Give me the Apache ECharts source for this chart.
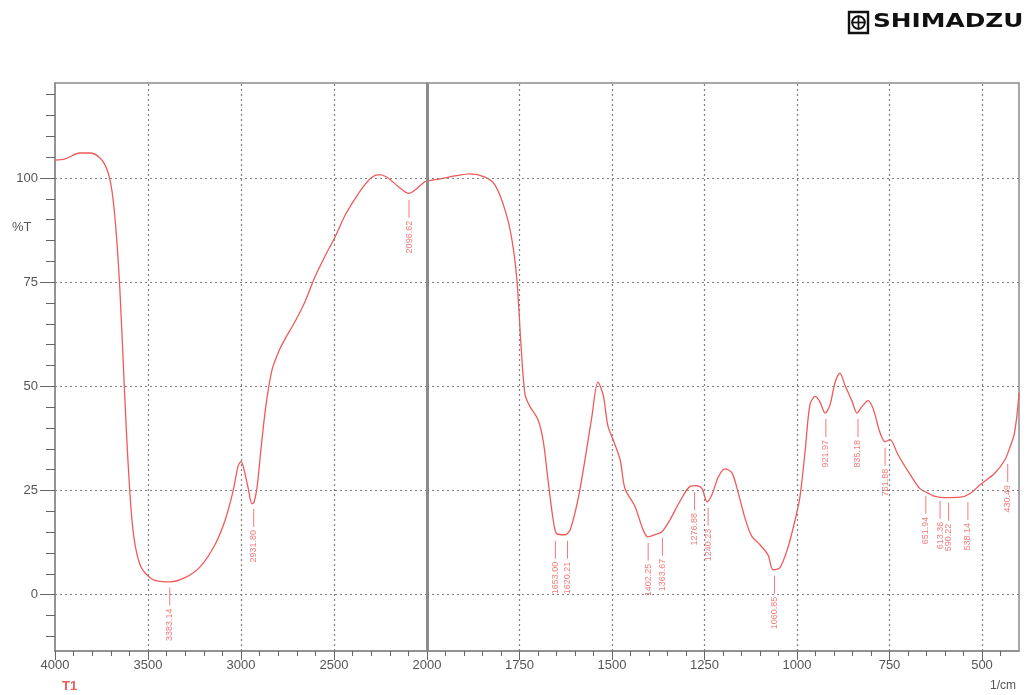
<!DOCTYPE html>
<html>
<head>
<meta charset="utf-8">
<script src="https://cdn.jsdelivr.net/npm/echarts@6/dist/echarts.min.js"></script>
<style>
  html, body { margin: 0; padding: 0; background: #fff; }
  #chart { width: 1029px; height: 695px; }
</style>
</head>
<body>
<div id="chart"></div>
<script>
// spectrum 4000-2000 1/cm (left panel, compressed scale)
var leftWavenumbers = [4000, 3946, 3866, 3812, 3758, 3720, 3694, 3672, 3651, 3629, 3608, 3581, 3543, 3489, 3435, 3382, 3301, 3220, 3140, 3086, 3043, 3016, 3000, 2984, 2962, 2941, 2930, 2914, 2893, 2866, 2833, 2796, 2763, 2710, 2656, 2602, 2548, 2495, 2441, 2387, 2344, 2301, 2258, 2215, 2150, 2097, 2054, 2016, 2000];
var leftTransmittance = [104.3, 104.6, 106, 106, 104.8, 102, 97, 87.5, 73, 51.6, 32.4, 15.6, 7.2, 4.1, 3.2, 3.1, 4.1, 6.7, 12, 17.8, 24.8, 30.8, 32, 30.1, 25.7, 21.8, 22.2, 25.7, 34.8, 45.4, 54, 58.5, 61.4, 65.5, 70.3, 76.3, 81.3, 85.8, 91, 95, 97.8, 100, 100.8, 100.2, 97.8, 96.3, 97.5, 99, 99.3];

// spectrum 2000-400 1/cm (right panel)
var rightWavenumbers = [2000, 1965, 1924, 1884, 1843, 1816, 1789, 1770, 1757, 1746, 1735, 1722, 1700, 1686, 1673, 1659, 1649, 1627, 1613, 1592, 1573, 1554, 1538, 1524, 1511, 1497, 1478, 1465, 1438, 1416, 1403, 1384, 1365, 1343, 1316, 1289, 1273, 1257, 1243, 1230, 1213, 1195, 1176, 1159, 1140, 1122, 1100, 1078, 1065, 1046, 1024, 1005, 992, 978, 965, 951, 938, 924, 911, 897, 884, 870, 851, 838, 824, 808, 794, 776, 762, 749, 727, 694, 667, 646, 627, 600, 559, 532, 505, 465, 438, 424, 413, 405, 400];
var rightTransmittance = [99.3, 99.8, 100.5, 101, 100.2, 98.3, 92.3, 85, 75.5, 60, 48, 45.2, 42, 37, 27.6, 18, 14.6, 14.4, 15.6, 22.8, 32.4, 43, 51, 48, 40.5, 37.2, 32.4, 25.5, 21.2, 15.6, 13.9, 14.4, 15.1, 18, 22.5, 26, 26.2, 25.5, 22.3, 24, 28.2, 30.2, 29.3, 24.5, 18.2, 14, 12, 9.5, 6, 6.5, 11.5, 18, 23.5, 34.5, 45.6, 47.6, 46.3, 43.6, 45.5, 51, 53.2, 50.2, 46.4, 43.6, 45.2, 46.6, 44.6, 39, 36.7, 37.2, 33.6, 28.8, 25.4, 24.4, 23.6, 23.3, 23.4, 24.3, 26.4, 29.2, 32.4, 35.5, 38.5, 43.5, 48.4];

// peak picks
var leftPeakWavenumbers = [3383.14, 2931.80, 2096.62];
var leftPeakValues = [3.2, 22, 96.2];
var rightPeakWavenumbers = [1653.00, 1620.21, 1402.25, 1363.67, 1276.88, 1240.23, 1060.85, 921.97, 835.18, 761.88, 651.94, 613.36, 590.22, 538.14, 430.49];
var rightPeakValues = [14.4, 14.4, 13.9, 15.1, 26.1, 22.3, 6, 43.6, 43.6, 36.7, 25.2, 24, 23.5, 23.7, 32.8];

// axis ticks
var yTickLabels = [0, 25, 50, 75, 100];
var yMinorTicks = [-10, -5, 5, 10, 15, 20, 30, 35, 40, 45, 55, 60, 65, 70, 80, 85, 90, 95, 105, 110, 115, 120];
var leftXTickLabels = [4000, 3500, 3000, 2500, 2000];
var leftXMinorTicks = [3900, 3800, 3700, 3600, 3400, 3300, 3200, 3100, 2900, 2800, 2700, 2600, 2400, 2300, 2200, 2100];
var rightXTickLabels = [1750, 1500, 1250, 1000, 750, 500];
var rightXMinorTicks = [1950, 1900, 1850, 1800, 1700, 1650, 1600, 1550, 1450, 1400, 1350, 1300, 1200, 1150, 1100, 1050, 950, 900, 850, 800, 700, 650, 600, 550, 450];

var red = '#f05a5a';
var gray = '#8c8c8c';
var textGray = '#555';

function zip(xs, ys) {
  var out = [];
  for (var i = 0; i < xs.length; i++) out.push([xs[i], ys[i]]);
  return out;
}
function peakData(xs, ys) {
  var out = [];
  for (var i = 0; i < xs.length; i++) {
    out.push({ name: xs[i].toFixed(2), value: [xs[i], ys[i]] });
  }
  return out;
}
function gridLines(xs) {
  var d = [];
  yTickLabels.forEach(function (v) { d.push({ yAxis: v }); });
  xs.forEach(function (v) { d.push({ xAxis: v }); });
  return d;
}
function plain(v) { return String(v); }

var dotted = { type: [2, 3], color: '#808080', width: 1.2 };
var axisFont = { fontFamily: 'Liberation Sans', fontSize: 13, color: textGray, formatter: plain };

function xAxisPair(grid, min, max, majors, minors) {
  return [
    {
      gridIndex: grid, type: 'value', min: min, max: max, inverse: true, position: 'bottom',
      axisLine: { show: true, onZero: false, lineStyle: { color: gray, width: 1.5 } },
      axisTick: { show: true, customValues: majors, length: 9, lineStyle: { color: '#666' } },
      axisLabel: Object.assign({ customValues: majors, margin: 8 }, axisFont),
      splitLine: { show: false }
    },
    {
      gridIndex: grid, type: 'value', min: min, max: max, inverse: true, position: 'bottom',
      axisLine: { show: false, onZero: false },
      axisTick: { show: true, customValues: minors, length: 5, lineStyle: { color: '#666' } },
      axisLabel: { show: false },
      splitLine: { show: false }
    }
  ];
}

var peakSeries = function (xi, yi, data) {
  return {
    type: 'scatter',
    xAxisIndex: xi,
    yAxisIndex: yi,
    data: data,
    symbol: 'rect',
    symbolSize: [1, 18],
    symbolOffset: [0, 15],
    itemStyle: { color: red },
    silent: true,
    label: {
      show: true,
      formatter: '{b}',
      position: 'bottom',
      distance: 3,
      rotate: 90,
      align: 'right',
      verticalAlign: 'middle',
      color: red,
      fontFamily: 'Liberation Sans',
      fontSize: 9
    }
  };
};

var chart = echarts.init(document.getElementById('chart'));
chart.setOption({
  animation: false,
  grid: [
    { left: 55, top: 83, width: 372, height: 568, show: true, borderColor: gray, borderWidth: 1.5 },
    { left: 427, top: 83, width: 592, height: 568, show: true, borderColor: gray, borderWidth: 1.5 }
  ],
  xAxis: xAxisPair(0, 2000, 4000, leftXTickLabels, leftXMinorTicks)
    .concat(xAxisPair(1, 400, 2000, rightXTickLabels, rightXMinorTicks)),
  yAxis: [
    {
      gridIndex: 0, type: 'value', min: -13.5, max: 122.8, position: 'left',
      axisLine: { show: true, onZero: false, lineStyle: { color: gray, width: 1.5 } },
      axisTick: { show: true, customValues: yTickLabels, length: 15, lineStyle: { color: '#666' } },
      axisLabel: Object.assign({ customValues: yTickLabels, margin: 17 }, axisFont),
      splitLine: { show: false }
    },
    {
      gridIndex: 0, type: 'value', min: -13.5, max: 122.8, position: 'left',
      axisLine: { show: false, onZero: false },
      axisTick: { show: true, customValues: yMinorTicks, length: 9, lineStyle: { color: '#666' } },
      axisLabel: { show: false },
      splitLine: { show: false }
    },
    {
      gridIndex: 1, type: 'value', min: -13.5, max: 122.8, show: false
    }
  ],
  series: [
    {
      type: 'line',
      xAxisIndex: 0,
      yAxisIndex: 0,
      data: zip(leftWavenumbers, leftTransmittance),
      showSymbol: false,
      smooth: 0.3,
      lineStyle: { color: red, width: 1.3 },
      markLine: {
        silent: true,
        symbol: ['none', 'none'],
        label: { show: false },
        lineStyle: dotted,
        data: gridLines([3500, 3000, 2500]).concat([
          { xAxis: 2000, lineStyle: { type: 'solid', color: gray, width: 3 } }
        ])
      }
    },
    {
      type: 'line',
      xAxisIndex: 2,
      yAxisIndex: 2,
      data: zip(rightWavenumbers, rightTransmittance),
      showSymbol: false,
      smooth: 0.3,
      lineStyle: { color: red, width: 1.3 },
      markLine: {
        silent: true,
        symbol: ['none', 'none'],
        label: { show: false },
        lineStyle: dotted,
        data: gridLines(rightXTickLabels)
      }
    },
    peakSeries(0, 0, peakData(leftPeakWavenumbers, leftPeakValues)),
    peakSeries(2, 2, peakData(rightPeakWavenumbers, rightPeakValues))
  ],
  graphic: [
    { type: 'text', left: 12, top: 221, style: { text: '%T', fontFamily: 'Liberation Sans', fontSize: 13, fill: textGray } },
    { type: 'text', left: 62, top: 680, style: { text: 'T1', fontFamily: 'Liberation Sans', fontSize: 13, fontWeight: 'bold', fill: red } },
    { type: 'text', left: 990, top: 680, style: { text: '1/cm', fontFamily: 'Liberation Sans', fontSize: 12, fill: textGray } },
    // Shimadzu logo
    { type: 'rect', shape: { x: 849, y: 12, width: 19, height: 21 }, style: { fill: 'none', stroke: '#111', lineWidth: 2.4 } },
    { type: 'circle', shape: { cx: 858.5, cy: 22.5, r: 6.3 }, style: { fill: 'none', stroke: '#111', lineWidth: 1.9 } },
    { type: 'line', shape: { x1: 858.5, y1: 15.5, x2: 858.5, y2: 29.5 }, style: { stroke: '#111', lineWidth: 1.7 } },
    { type: 'line', shape: { x1: 851.5, y1: 22.5, x2: 865.5, y2: 22.5 }, style: { stroke: '#111', lineWidth: 1.7 } },
    { type: 'text', x: 873, y: 12, scaleX: 1.24, style: { text: 'SHIMADZU', fontFamily: 'DejaVu Sans', fontWeight: 'bold', fontSize: 20, fill: '#111' } }
  ]
});
</script>
</body>
</html>
